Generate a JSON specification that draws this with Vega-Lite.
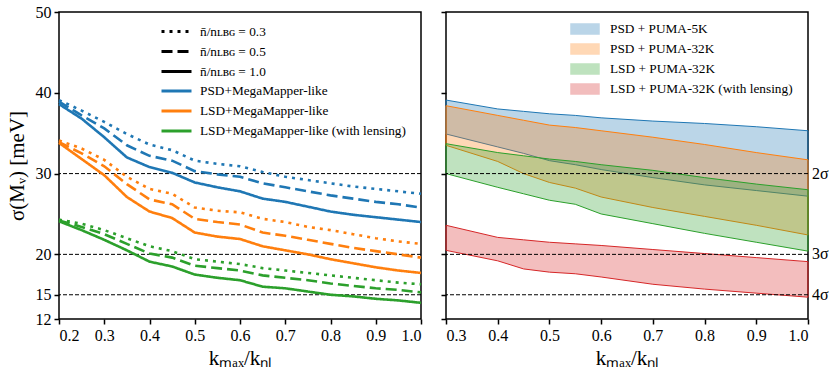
{
  "$schema": "https://vega.github.io/schema/vega-lite/v6.json",
  "background": "white",
  "padding": {"left": 5, "top": 3, "right": 0, "bottom": 0},
  "spacing": 25,
  "bounds": "flush",
  "resolve": {
    "scale": {"color": "independent", "fill": "independent", "stroke": "independent", "strokeDash": "independent"},
    "legend": {"color": "independent", "fill": "independent", "stroke": "independent", "strokeDash": "independent"}
  },
  "config": {
    "font": "Liberation Serif",
    "view": {"stroke": "black", "strokeWidth": 1.5},
    "axis": {
      "labelFont": "Liberation Serif", "labelFontSize": 16, "labelColor": "black",
      "titleFont": "Liberation Serif", "titleFontWeight": "normal", "titleColor": "black",
      "tickColor": "black", "tickWidth": 1.5, "tickSize": 5, "domain": false, "grid": false,
      "labelPadding": 3
    },
    "legend": {"labelFont": "Liberation Serif", "labelFontSize": 13.3, "labelColor": "black", "padding": 0, "rowPadding": 4, "labelLimit": 0}
  },
  "datasets": {
    "levels": [
      {"k": 1.0, "y": 30, "label": "2σ"},
      {"k": 1.0, "y": 20, "label": "3σ"},
      {"k": 1.0, "y": 15, "label": "4σ"}
    ],
    "lines": [
      {"k":0.2,"sigma":39.1,"survey":"PSD+MegaMapper-like","density":"n̄/nʟʙɢ = 0.3"},
      {"k":0.25,"sigma":37.8,"survey":"PSD+MegaMapper-like","density":"n̄/nʟʙɢ = 0.3"},
      {"k":0.3,"sigma":36.4,"survey":"PSD+MegaMapper-like","density":"n̄/nʟʙɢ = 0.3"},
      {"k":0.35,"sigma":34.9,"survey":"PSD+MegaMapper-like","density":"n̄/nʟʙɢ = 0.3"},
      {"k":0.4,"sigma":33.6,"survey":"PSD+MegaMapper-like","density":"n̄/nʟʙɢ = 0.3"},
      {"k":0.45,"sigma":32.9,"survey":"PSD+MegaMapper-like","density":"n̄/nʟʙɢ = 0.3"},
      {"k":0.5,"sigma":31.6,"survey":"PSD+MegaMapper-like","density":"n̄/nʟʙɢ = 0.3"},
      {"k":0.55,"sigma":31.2,"survey":"PSD+MegaMapper-like","density":"n̄/nʟʙɢ = 0.3"},
      {"k":0.6,"sigma":30.9,"survey":"PSD+MegaMapper-like","density":"n̄/nʟʙɢ = 0.3"},
      {"k":0.65,"sigma":30.2,"survey":"PSD+MegaMapper-like","density":"n̄/nʟʙɢ = 0.3"},
      {"k":0.7,"sigma":29.6,"survey":"PSD+MegaMapper-like","density":"n̄/nʟʙɢ = 0.3"},
      {"k":0.75,"sigma":29.2,"survey":"PSD+MegaMapper-like","density":"n̄/nʟʙɢ = 0.3"},
      {"k":0.8,"sigma":28.8,"survey":"PSD+MegaMapper-like","density":"n̄/nʟʙɢ = 0.3"},
      {"k":0.85,"sigma":28.4,"survey":"PSD+MegaMapper-like","density":"n̄/nʟʙɢ = 0.3"},
      {"k":0.9,"sigma":28.1,"survey":"PSD+MegaMapper-like","density":"n̄/nʟʙɢ = 0.3"},
      {"k":0.95,"sigma":27.8,"survey":"PSD+MegaMapper-like","density":"n̄/nʟʙɢ = 0.3"},
      {"k":1.0,"sigma":27.5,"survey":"PSD+MegaMapper-like","density":"n̄/nʟʙɢ = 0.3"},

      {"k":0.2,"sigma":38.9,"survey":"PSD+MegaMapper-like","density":"n̄/nʟʙɢ = 0.5"},
      {"k":0.25,"sigma":37.2,"survey":"PSD+MegaMapper-like","density":"n̄/nʟʙɢ = 0.5"},
      {"k":0.3,"sigma":35.6,"survey":"PSD+MegaMapper-like","density":"n̄/nʟʙɢ = 0.5"},
      {"k":0.35,"sigma":33.5,"survey":"PSD+MegaMapper-like","density":"n̄/nʟʙɢ = 0.5"},
      {"k":0.4,"sigma":32.2,"survey":"PSD+MegaMapper-like","density":"n̄/nʟʙɢ = 0.5"},
      {"k":0.45,"sigma":31.6,"survey":"PSD+MegaMapper-like","density":"n̄/nʟʙɢ = 0.5"},
      {"k":0.5,"sigma":30.3,"survey":"PSD+MegaMapper-like","density":"n̄/nʟʙɢ = 0.5"},
      {"k":0.55,"sigma":29.9,"survey":"PSD+MegaMapper-like","density":"n̄/nʟʙɢ = 0.5"},
      {"k":0.6,"sigma":29.6,"survey":"PSD+MegaMapper-like","density":"n̄/nʟʙɢ = 0.5"},
      {"k":0.65,"sigma":28.8,"survey":"PSD+MegaMapper-like","density":"n̄/nʟʙɢ = 0.5"},
      {"k":0.7,"sigma":28.3,"survey":"PSD+MegaMapper-like","density":"n̄/nʟʙɢ = 0.5"},
      {"k":0.75,"sigma":27.8,"survey":"PSD+MegaMapper-like","density":"n̄/nʟʙɢ = 0.5"},
      {"k":0.8,"sigma":27.3,"survey":"PSD+MegaMapper-like","density":"n̄/nʟʙɢ = 0.5"},
      {"k":0.85,"sigma":26.9,"survey":"PSD+MegaMapper-like","density":"n̄/nʟʙɢ = 0.5"},
      {"k":0.9,"sigma":26.5,"survey":"PSD+MegaMapper-like","density":"n̄/nʟʙɢ = 0.5"},
      {"k":0.95,"sigma":26.2,"survey":"PSD+MegaMapper-like","density":"n̄/nʟʙɢ = 0.5"},
      {"k":1.0,"sigma":25.8,"survey":"PSD+MegaMapper-like","density":"n̄/nʟʙɢ = 0.5"},

      {"k":0.2,"sigma":38.6,"survey":"PSD+MegaMapper-like","density":"n̄/nʟʙɢ = 1.0"},
      {"k":0.25,"sigma":36.8,"survey":"PSD+MegaMapper-like","density":"n̄/nʟʙɢ = 1.0"},
      {"k":0.3,"sigma":34.5,"survey":"PSD+MegaMapper-like","density":"n̄/nʟʙɢ = 1.0"},
      {"k":0.35,"sigma":32.0,"survey":"PSD+MegaMapper-like","density":"n̄/nʟʙɢ = 1.0"},
      {"k":0.4,"sigma":30.8,"survey":"PSD+MegaMapper-like","density":"n̄/nʟʙɢ = 1.0"},
      {"k":0.45,"sigma":30.1,"survey":"PSD+MegaMapper-like","density":"n̄/nʟʙɢ = 1.0"},
      {"k":0.5,"sigma":28.9,"survey":"PSD+MegaMapper-like","density":"n̄/nʟʙɢ = 1.0"},
      {"k":0.55,"sigma":28.3,"survey":"PSD+MegaMapper-like","density":"n̄/nʟʙɢ = 1.0"},
      {"k":0.6,"sigma":27.8,"survey":"PSD+MegaMapper-like","density":"n̄/nʟʙɢ = 1.0"},
      {"k":0.65,"sigma":26.9,"survey":"PSD+MegaMapper-like","density":"n̄/nʟʙɢ = 1.0"},
      {"k":0.7,"sigma":26.5,"survey":"PSD+MegaMapper-like","density":"n̄/nʟʙɢ = 1.0"},
      {"k":0.75,"sigma":25.9,"survey":"PSD+MegaMapper-like","density":"n̄/nʟʙɢ = 1.0"},
      {"k":0.8,"sigma":25.3,"survey":"PSD+MegaMapper-like","density":"n̄/nʟʙɢ = 1.0"},
      {"k":0.85,"sigma":24.9,"survey":"PSD+MegaMapper-like","density":"n̄/nʟʙɢ = 1.0"},
      {"k":0.9,"sigma":24.6,"survey":"PSD+MegaMapper-like","density":"n̄/nʟʙɢ = 1.0"},
      {"k":0.95,"sigma":24.3,"survey":"PSD+MegaMapper-like","density":"n̄/nʟʙɢ = 1.0"},
      {"k":1.0,"sigma":24.0,"survey":"PSD+MegaMapper-like","density":"n̄/nʟʙɢ = 1.0"},

      {"k":0.2,"sigma":34.1,"survey":"LSD+MegaMapper-like","density":"n̄/nʟʙɢ = 0.3"},
      {"k":0.25,"sigma":33.1,"survey":"LSD+MegaMapper-like","density":"n̄/nʟʙɢ = 0.3"},
      {"k":0.3,"sigma":31.7,"survey":"LSD+MegaMapper-like","density":"n̄/nʟʙɢ = 0.3"},
      {"k":0.35,"sigma":29.6,"survey":"LSD+MegaMapper-like","density":"n̄/nʟʙɢ = 0.3"},
      {"k":0.4,"sigma":28.1,"survey":"LSD+MegaMapper-like","density":"n̄/nʟʙɢ = 0.3"},
      {"k":0.45,"sigma":27.5,"survey":"LSD+MegaMapper-like","density":"n̄/nʟʙɢ = 0.3"},
      {"k":0.5,"sigma":25.8,"survey":"LSD+MegaMapper-like","density":"n̄/nʟʙɢ = 0.3"},
      {"k":0.55,"sigma":25.4,"survey":"LSD+MegaMapper-like","density":"n̄/nʟʙɢ = 0.3"},
      {"k":0.6,"sigma":25.2,"survey":"LSD+MegaMapper-like","density":"n̄/nʟʙɢ = 0.3"},
      {"k":0.65,"sigma":24.4,"survey":"LSD+MegaMapper-like","density":"n̄/nʟʙɢ = 0.3"},
      {"k":0.7,"sigma":24.0,"survey":"LSD+MegaMapper-like","density":"n̄/nʟʙɢ = 0.3"},
      {"k":0.75,"sigma":23.4,"survey":"LSD+MegaMapper-like","density":"n̄/nʟʙɢ = 0.3"},
      {"k":0.8,"sigma":23.0,"survey":"LSD+MegaMapper-like","density":"n̄/nʟʙɢ = 0.3"},
      {"k":0.85,"sigma":22.5,"survey":"LSD+MegaMapper-like","density":"n̄/nʟʙɢ = 0.3"},
      {"k":0.9,"sigma":22.0,"survey":"LSD+MegaMapper-like","density":"n̄/nʟʙɢ = 0.3"},
      {"k":0.95,"sigma":21.6,"survey":"LSD+MegaMapper-like","density":"n̄/nʟʙɢ = 0.3"},
      {"k":1.0,"sigma":21.3,"survey":"LSD+MegaMapper-like","density":"n̄/nʟʙɢ = 0.3"},

      {"k":0.2,"sigma":33.9,"survey":"LSD+MegaMapper-like","density":"n̄/nʟʙɢ = 0.5"},
      {"k":0.25,"sigma":32.5,"survey":"LSD+MegaMapper-like","density":"n̄/nʟʙɢ = 0.5"},
      {"k":0.3,"sigma":30.9,"survey":"LSD+MegaMapper-like","density":"n̄/nʟʙɢ = 0.5"},
      {"k":0.35,"sigma":28.7,"survey":"LSD+MegaMapper-like","density":"n̄/nʟʙɢ = 0.5"},
      {"k":0.4,"sigma":26.8,"survey":"LSD+MegaMapper-like","density":"n̄/nʟʙɢ = 0.5"},
      {"k":0.45,"sigma":26.2,"survey":"LSD+MegaMapper-like","density":"n̄/nʟʙɢ = 0.5"},
      {"k":0.5,"sigma":24.4,"survey":"LSD+MegaMapper-like","density":"n̄/nʟʙɢ = 0.5"},
      {"k":0.55,"sigma":24.0,"survey":"LSD+MegaMapper-like","density":"n̄/nʟʙɢ = 0.5"},
      {"k":0.6,"sigma":23.7,"survey":"LSD+MegaMapper-like","density":"n̄/nʟʙɢ = 0.5"},
      {"k":0.65,"sigma":22.7,"survey":"LSD+MegaMapper-like","density":"n̄/nʟʙɢ = 0.5"},
      {"k":0.7,"sigma":22.3,"survey":"LSD+MegaMapper-like","density":"n̄/nʟʙɢ = 0.5"},
      {"k":0.75,"sigma":21.8,"survey":"LSD+MegaMapper-like","density":"n̄/nʟʙɢ = 0.5"},
      {"k":0.8,"sigma":21.3,"survey":"LSD+MegaMapper-like","density":"n̄/nʟʙɢ = 0.5"},
      {"k":0.85,"sigma":20.8,"survey":"LSD+MegaMapper-like","density":"n̄/nʟʙɢ = 0.5"},
      {"k":0.9,"sigma":20.4,"survey":"LSD+MegaMapper-like","density":"n̄/nʟʙɢ = 0.5"},
      {"k":0.95,"sigma":20.0,"survey":"LSD+MegaMapper-like","density":"n̄/nʟʙɢ = 0.5"},
      {"k":1.0,"sigma":19.6,"survey":"LSD+MegaMapper-like","density":"n̄/nʟʙɢ = 0.5"},

      {"k":0.2,"sigma":33.8,"survey":"LSD+MegaMapper-like","density":"n̄/nʟʙɢ = 1.0"},
      {"k":0.25,"sigma":31.8,"survey":"LSD+MegaMapper-like","density":"n̄/nʟʙɢ = 1.0"},
      {"k":0.3,"sigma":29.8,"survey":"LSD+MegaMapper-like","density":"n̄/nʟʙɢ = 1.0"},
      {"k":0.35,"sigma":27.1,"survey":"LSD+MegaMapper-like","density":"n̄/nʟʙɢ = 1.0"},
      {"k":0.4,"sigma":25.3,"survey":"LSD+MegaMapper-like","density":"n̄/nʟʙɢ = 1.0"},
      {"k":0.45,"sigma":24.5,"survey":"LSD+MegaMapper-like","density":"n̄/nʟʙɢ = 1.0"},
      {"k":0.5,"sigma":22.7,"survey":"LSD+MegaMapper-like","density":"n̄/nʟʙɢ = 1.0"},
      {"k":0.55,"sigma":22.2,"survey":"LSD+MegaMapper-like","density":"n̄/nʟʙɢ = 1.0"},
      {"k":0.6,"sigma":21.9,"survey":"LSD+MegaMapper-like","density":"n̄/nʟʙɢ = 1.0"},
      {"k":0.65,"sigma":21.0,"survey":"LSD+MegaMapper-like","density":"n̄/nʟʙɢ = 1.0"},
      {"k":0.7,"sigma":20.5,"survey":"LSD+MegaMapper-like","density":"n̄/nʟʙɢ = 1.0"},
      {"k":0.75,"sigma":20.0,"survey":"LSD+MegaMapper-like","density":"n̄/nʟʙɢ = 1.0"},
      {"k":0.8,"sigma":19.4,"survey":"LSD+MegaMapper-like","density":"n̄/nʟʙɢ = 1.0"},
      {"k":0.85,"sigma":18.9,"survey":"LSD+MegaMapper-like","density":"n̄/nʟʙɢ = 1.0"},
      {"k":0.9,"sigma":18.4,"survey":"LSD+MegaMapper-like","density":"n̄/nʟʙɢ = 1.0"},
      {"k":0.95,"sigma":18.0,"survey":"LSD+MegaMapper-like","density":"n̄/nʟʙɢ = 1.0"},
      {"k":1.0,"sigma":17.7,"survey":"LSD+MegaMapper-like","density":"n̄/nʟʙɢ = 1.0"},

      {"k":0.2,"sigma":24.3,"survey":"LSD+MegaMapper-like (with lensing)","density":"n̄/nʟʙɢ = 0.3"},
      {"k":0.25,"sigma":23.8,"survey":"LSD+MegaMapper-like (with lensing)","density":"n̄/nʟʙɢ = 0.3"},
      {"k":0.3,"sigma":23.0,"survey":"LSD+MegaMapper-like (with lensing)","density":"n̄/nʟʙɢ = 0.3"},
      {"k":0.35,"sigma":22.0,"survey":"LSD+MegaMapper-like (with lensing)","density":"n̄/nʟʙɢ = 0.3"},
      {"k":0.4,"sigma":21.0,"survey":"LSD+MegaMapper-like (with lensing)","density":"n̄/nʟʙɢ = 0.3"},
      {"k":0.45,"sigma":20.4,"survey":"LSD+MegaMapper-like (with lensing)","density":"n̄/nʟʙɢ = 0.3"},
      {"k":0.5,"sigma":19.4,"survey":"LSD+MegaMapper-like (with lensing)","density":"n̄/nʟʙɢ = 0.3"},
      {"k":0.55,"sigma":19.1,"survey":"LSD+MegaMapper-like (with lensing)","density":"n̄/nʟʙɢ = 0.3"},
      {"k":0.6,"sigma":18.8,"survey":"LSD+MegaMapper-like (with lensing)","density":"n̄/nʟʙɢ = 0.3"},
      {"k":0.65,"sigma":18.3,"survey":"LSD+MegaMapper-like (with lensing)","density":"n̄/nʟʙɢ = 0.3"},
      {"k":0.7,"sigma":18.0,"survey":"LSD+MegaMapper-like (with lensing)","density":"n̄/nʟʙɢ = 0.3"},
      {"k":0.75,"sigma":17.7,"survey":"LSD+MegaMapper-like (with lensing)","density":"n̄/nʟʙɢ = 0.3"},
      {"k":0.8,"sigma":17.4,"survey":"LSD+MegaMapper-like (with lensing)","density":"n̄/nʟʙɢ = 0.3"},
      {"k":0.85,"sigma":17.1,"survey":"LSD+MegaMapper-like (with lensing)","density":"n̄/nʟʙɢ = 0.3"},
      {"k":0.9,"sigma":16.8,"survey":"LSD+MegaMapper-like (with lensing)","density":"n̄/nʟʙɢ = 0.3"},
      {"k":0.95,"sigma":16.5,"survey":"LSD+MegaMapper-like (with lensing)","density":"n̄/nʟʙɢ = 0.3"},
      {"k":1.0,"sigma":16.3,"survey":"LSD+MegaMapper-like (with lensing)","density":"n̄/nʟʙɢ = 0.3"},

      {"k":0.2,"sigma":24.2,"survey":"LSD+MegaMapper-like (with lensing)","density":"n̄/nʟʙɢ = 0.5"},
      {"k":0.25,"sigma":23.4,"survey":"LSD+MegaMapper-like (with lensing)","density":"n̄/nʟʙɢ = 0.5"},
      {"k":0.3,"sigma":22.5,"survey":"LSD+MegaMapper-like (with lensing)","density":"n̄/nʟʙɢ = 0.5"},
      {"k":0.35,"sigma":21.3,"survey":"LSD+MegaMapper-like (with lensing)","density":"n̄/nʟʙɢ = 0.5"},
      {"k":0.4,"sigma":20.1,"survey":"LSD+MegaMapper-like (with lensing)","density":"n̄/nʟʙɢ = 0.5"},
      {"k":0.45,"sigma":19.6,"survey":"LSD+MegaMapper-like (with lensing)","density":"n̄/nʟʙɢ = 0.5"},
      {"k":0.5,"sigma":18.6,"survey":"LSD+MegaMapper-like (with lensing)","density":"n̄/nʟʙɢ = 0.5"},
      {"k":0.55,"sigma":18.3,"survey":"LSD+MegaMapper-like (with lensing)","density":"n̄/nʟʙɢ = 0.5"},
      {"k":0.6,"sigma":18.0,"survey":"LSD+MegaMapper-like (with lensing)","density":"n̄/nʟʙɢ = 0.5"},
      {"k":0.65,"sigma":17.4,"survey":"LSD+MegaMapper-like (with lensing)","density":"n̄/nʟʙɢ = 0.5"},
      {"k":0.7,"sigma":17.1,"survey":"LSD+MegaMapper-like (with lensing)","density":"n̄/nʟʙɢ = 0.5"},
      {"k":0.75,"sigma":16.8,"survey":"LSD+MegaMapper-like (with lensing)","density":"n̄/nʟʙɢ = 0.5"},
      {"k":0.8,"sigma":16.4,"survey":"LSD+MegaMapper-like (with lensing)","density":"n̄/nʟʙɢ = 0.5"},
      {"k":0.85,"sigma":16.1,"survey":"LSD+MegaMapper-like (with lensing)","density":"n̄/nʟʙɢ = 0.5"},
      {"k":0.9,"sigma":15.8,"survey":"LSD+MegaMapper-like (with lensing)","density":"n̄/nʟʙɢ = 0.5"},
      {"k":0.95,"sigma":15.6,"survey":"LSD+MegaMapper-like (with lensing)","density":"n̄/nʟʙɢ = 0.5"},
      {"k":1.0,"sigma":15.3,"survey":"LSD+MegaMapper-like (with lensing)","density":"n̄/nʟʙɢ = 0.5"},

      {"k":0.2,"sigma":24.1,"survey":"LSD+MegaMapper-like (with lensing)","density":"n̄/nʟʙɢ = 1.0"},
      {"k":0.25,"sigma":23.0,"survey":"LSD+MegaMapper-like (with lensing)","density":"n̄/nʟʙɢ = 1.0"},
      {"k":0.3,"sigma":21.8,"survey":"LSD+MegaMapper-like (with lensing)","density":"n̄/nʟʙɢ = 1.0"},
      {"k":0.35,"sigma":20.5,"survey":"LSD+MegaMapper-like (with lensing)","density":"n̄/nʟʙɢ = 1.0"},
      {"k":0.4,"sigma":19.1,"survey":"LSD+MegaMapper-like (with lensing)","density":"n̄/nʟʙɢ = 1.0"},
      {"k":0.45,"sigma":18.5,"survey":"LSD+MegaMapper-like (with lensing)","density":"n̄/nʟʙɢ = 1.0"},
      {"k":0.5,"sigma":17.5,"survey":"LSD+MegaMapper-like (with lensing)","density":"n̄/nʟʙɢ = 1.0"},
      {"k":0.55,"sigma":17.1,"survey":"LSD+MegaMapper-like (with lensing)","density":"n̄/nʟʙɢ = 1.0"},
      {"k":0.6,"sigma":16.8,"survey":"LSD+MegaMapper-like (with lensing)","density":"n̄/nʟʙɢ = 1.0"},
      {"k":0.65,"sigma":16.0,"survey":"LSD+MegaMapper-like (with lensing)","density":"n̄/nʟʙɢ = 1.0"},
      {"k":0.7,"sigma":15.8,"survey":"LSD+MegaMapper-like (with lensing)","density":"n̄/nʟʙɢ = 1.0"},
      {"k":0.75,"sigma":15.4,"survey":"LSD+MegaMapper-like (with lensing)","density":"n̄/nʟʙɢ = 1.0"},
      {"k":0.8,"sigma":15.0,"survey":"LSD+MegaMapper-like (with lensing)","density":"n̄/nʟʙɢ = 1.0"},
      {"k":0.85,"sigma":14.8,"survey":"LSD+MegaMapper-like (with lensing)","density":"n̄/nʟʙɢ = 1.0"},
      {"k":0.9,"sigma":14.5,"survey":"LSD+MegaMapper-like (with lensing)","density":"n̄/nʟʙɢ = 1.0"},
      {"k":0.95,"sigma":14.3,"survey":"LSD+MegaMapper-like (with lensing)","density":"n̄/nʟʙɢ = 1.0"},
      {"k":1.0,"sigma":14.0,"survey":"LSD+MegaMapper-like (with lensing)","density":"n̄/nʟʙɢ = 1.0"}
    ],
    "bands": [
      {"k":0.3,"lo":34.9,"hi":39.1,"combo":"PSD + PUMA-5K"},
      {"k":0.4,"lo":33.3,"hi":38.0,"combo":"PSD + PUMA-5K"},
      {"k":0.45,"lo":32.5,"hi":37.7,"combo":"PSD + PUMA-5K"},
      {"k":0.5,"lo":31.6,"hi":37.4,"combo":"PSD + PUMA-5K"},
      {"k":0.55,"lo":31.1,"hi":37.2,"combo":"PSD + PUMA-5K"},
      {"k":0.6,"lo":30.5,"hi":36.9,"combo":"PSD + PUMA-5K"},
      {"k":0.7,"lo":29.5,"hi":36.5,"combo":"PSD + PUMA-5K"},
      {"k":0.8,"lo":28.6,"hi":36.2,"combo":"PSD + PUMA-5K"},
      {"k":0.9,"lo":27.9,"hi":35.8,"combo":"PSD + PUMA-5K"},
      {"k":1.0,"lo":27.2,"hi":35.3,"combo":"PSD + PUMA-5K"},
      {"k":0.3,"lo":33.5,"hi":38.4,"combo":"PSD + PUMA-32K"},
      {"k":0.4,"lo":31.5,"hi":37.2,"combo":"PSD + PUMA-32K"},
      {"k":0.45,"lo":30.0,"hi":36.6,"combo":"PSD + PUMA-32K"},
      {"k":0.5,"lo":28.9,"hi":36.0,"combo":"PSD + PUMA-32K"},
      {"k":0.55,"lo":28.2,"hi":35.7,"combo":"PSD + PUMA-32K"},
      {"k":0.6,"lo":27.1,"hi":35.3,"combo":"PSD + PUMA-32K"},
      {"k":0.7,"lo":25.8,"hi":34.5,"combo":"PSD + PUMA-32K"},
      {"k":0.8,"lo":24.7,"hi":33.6,"combo":"PSD + PUMA-32K"},
      {"k":0.9,"lo":23.6,"hi":32.6,"combo":"PSD + PUMA-32K"},
      {"k":1.0,"lo":22.4,"hi":31.7,"combo":"PSD + PUMA-32K"},
      {"k":0.3,"lo":30.0,"hi":33.7,"combo":"LSD + PUMA-32K"},
      {"k":0.4,"lo":28.3,"hi":32.6,"combo":"LSD + PUMA-32K"},
      {"k":0.45,"lo":27.5,"hi":32.2,"combo":"LSD + PUMA-32K"},
      {"k":0.5,"lo":26.7,"hi":31.8,"combo":"LSD + PUMA-32K"},
      {"k":0.55,"lo":26.2,"hi":31.5,"combo":"LSD + PUMA-32K"},
      {"k":0.6,"lo":25.0,"hi":31.1,"combo":"LSD + PUMA-32K"},
      {"k":0.7,"lo":23.8,"hi":30.4,"combo":"LSD + PUMA-32K"},
      {"k":0.8,"lo":22.6,"hi":29.5,"combo":"LSD + PUMA-32K"},
      {"k":0.9,"lo":21.5,"hi":28.7,"combo":"LSD + PUMA-32K"},
      {"k":1.0,"lo":20.4,"hi":28.0,"combo":"LSD + PUMA-32K"},
      {"k":0.3,"lo":20.5,"hi":23.6,"combo":"LSD + PUMA-32K (with lensing)"},
      {"k":0.4,"lo":19.2,"hi":22.1,"combo":"LSD + PUMA-32K (with lensing)"},
      {"k":0.45,"lo":18.2,"hi":21.8,"combo":"LSD + PUMA-32K (with lensing)"},
      {"k":0.5,"lo":17.8,"hi":21.5,"combo":"LSD + PUMA-32K (with lensing)"},
      {"k":0.55,"lo":17.6,"hi":21.3,"combo":"LSD + PUMA-32K (with lensing)"},
      {"k":0.6,"lo":17.2,"hi":21.1,"combo":"LSD + PUMA-32K (with lensing)"},
      {"k":0.7,"lo":16.3,"hi":20.6,"combo":"LSD + PUMA-32K (with lensing)"},
      {"k":0.8,"lo":15.7,"hi":20.1,"combo":"LSD + PUMA-32K (with lensing)"},
      {"k":0.9,"lo":15.2,"hi":19.6,"combo":"LSD + PUMA-32K (with lensing)"},
      {"k":1.0,"lo":14.7,"hi":19.1,"combo":"LSD + PUMA-32K (with lensing)"}
    ]
  },
  "hconcat": [
    {
      "width": 362,
      "height": 307,
      "layer": [
        {
          "data": {"name": "levels"},
          "mark": {"type": "rule", "color": "black", "strokeWidth": 1, "strokeDash": [4, 2]},
          "encoding": {
            "y": {"field": "y", "type": "quantitative",
                  "scale": {"domain": [12, 50], "nice": false, "zero": false},
                  "axis": {"values": [12, 15, 20, 30, 40, 50], "title": "σ(Mᵥ) [meV]", "titleFontSize": 21, "titlePadding": 8}}
          }
        },
        {
          "data": {"name": "lines"},
          "mark": {"type": "line", "strokeWidth": 2.6},
          "encoding": {
            "x": {"field": "k", "type": "quantitative",
                  "scale": {"domain": [0.2, 1.0], "nice": false, "zero": false},
                  "axis": {"values": [0.2, 0.3, 0.4, 0.5, 0.6, 0.7, 0.8, 0.9, 1.0], "format": ".1f", "title": "kₘₐₓ/kₙₗ", "titleFontSize": 21, "titlePadding": 4}},
            "y": {"field": "sigma", "type": "quantitative",
                  "scale": {"domain": [12, 50], "nice": false, "zero": false},
                  "axis": {"values": [12, 15, 20, 30, 40, 50], "title": "σ(Mᵥ) [meV]", "titleFontSize": 21, "titlePadding": 8}},
            "color": {"field": "survey", "type": "nominal",
                      "scale": {"domain": ["PSD+MegaMapper-like", "LSD+MegaMapper-like", "LSD+MegaMapper-like (with lensing)"], "range": ["#1f77b4", "#ff7f0e", "#2ca02c"]},
                      "legend": {"title": null, "orient": "none", "legendX": 108.5, "legendY": 70, "symbolType": "M-2,0L2,0", "symbolStrokeWidth": 3, "symbolSize": 225, "labelOffset": 14.5}},
            "strokeDash": {"field": "density", "type": "nominal",
                      "scale": {"domain": ["n̄/nʟʙɢ = 0.3", "n̄/nʟʙɢ = 0.5", "n̄/nʟʙɢ = 1.0"], "range": [[3, 5], [11, 5], [1, 0]]},
                      "legend": {"title": null, "orient": "none", "legendX": 108.5, "legendY": 10.5, "symbolType": "M-2,0L2,0", "symbolStrokeColor": "black", "symbolStrokeWidth": 3, "symbolSize": 225, "labelOffset": 14.5}}
          }
        }
      ]
    },
    {
      "width": 362,
      "height": 307,
      "layer": [
        {
          "data": {"name": "bands"},
          "mark": {"type": "area", "fillOpacity": 0.3, "strokeWidth": 1},
          "encoding": {
            "x": {"field": "k", "type": "quantitative",
                  "scale": {"domain": [0.3, 1.0], "nice": false, "zero": false},
                  "axis": {"values": [0.3, 0.4, 0.5, 0.6, 0.7, 0.8, 0.9, 1.0], "format": ".1f", "title": "kₘₐₓ/kₙₗ", "titleFontSize": 21, "titlePadding": 4}},
            "y": {"field": "lo", "type": "quantitative",
                  "scale": {"domain": [12, 50], "nice": false, "zero": false},
                  "axis": {"values": [12, 15, 20, 30, 40, 50], "labels": false, "title": null}},
            "y2": {"field": "hi"},
            "fill": {"field": "combo", "type": "nominal",
                     "scale": {"domain": ["PSD + PUMA-5K", "PSD + PUMA-32K", "LSD + PUMA-32K", "LSD + PUMA-32K (with lensing)"], "range": ["#1f77b4", "#ff7f0e", "#2ca02c", "#d62728"]},
                     "legend": {"title": null, "orient": "none", "legendX": 132, "legendY": 10, "symbolType": "M-2.333,-0.833L2.333,-0.833L2.333,0.833L-2.333,0.833Z", "symbolSize": 144, "symbolOpacity": 0.3, "labelOffset": 18}},
            "stroke": {"field": "combo", "type": "nominal",
                     "scale": {"domain": ["PSD + PUMA-5K", "PSD + PUMA-32K", "LSD + PUMA-32K", "LSD + PUMA-32K (with lensing)"], "range": ["#1f77b4", "#ff7f0e", "#2ca02c", "#d62728"]},
                     "legend": null}
          }
        },
        {
          "data": {"name": "levels"},
          "mark": {"type": "rule", "color": "black", "strokeWidth": 1, "strokeDash": [4, 2]},
          "encoding": {
            "y": {"field": "y", "type": "quantitative",
                  "scale": {"domain": [12, 50], "nice": false, "zero": false}}
          }
        },
        {
          "data": {"name": "levels"},
          "mark": {"type": "text", "align": "left", "baseline": "middle", "dx": 4, "fontSize": 16, "font": "Liberation Serif", "color": "black"},
          "encoding": {
            "x": {"field": "k", "type": "quantitative"},
            "y": {"field": "y", "type": "quantitative"},
            "text": {"field": "label"}
          }
        }
      ]
    }
  ]
}
